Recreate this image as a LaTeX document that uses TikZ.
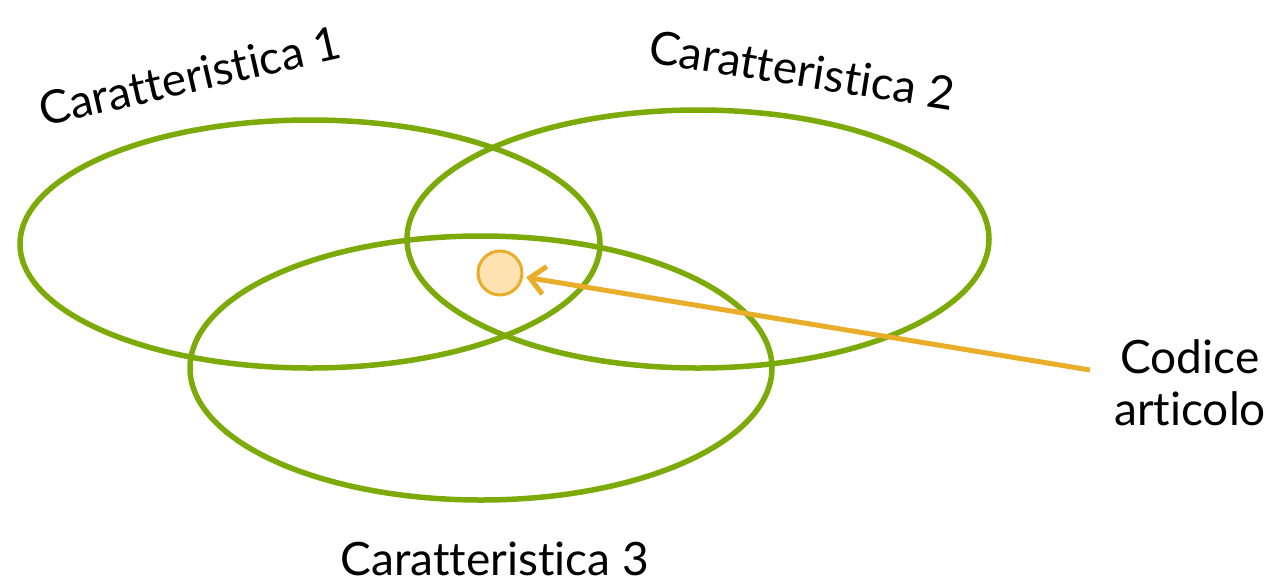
\documentclass[tikz,border=0pt]{standalone}
\usepackage{fontspec}
\setmainfont{Lato}[Ligatures=NoCommon]
\usepackage{xcolor}
\usetikzlibrary{arrows.meta,calc,positioning}

\definecolor{setgreen}{RGB}{124,170,8}
\definecolor{codeorange}{RGB}{233,173,42}
\definecolor{codefill}{RGB}{255,226,178}

\tikzset{
  setline/.style={line width=5.5pt, setgreen},
  setlabel/.style={font=\fontsize{46}{52}\selectfont, inner sep=0pt},
}

\begin{document}
\begin{tikzpicture}[x=1pt, y=-1pt]
  % frame of the picture
  \useasboundingbox (0,0) rectangle (1280,582);

  % Sets
  \draw[setline] (310,244) ellipse (290 and 124);
  \draw[setline] (698,239) ellipse (291 and 129);
  \draw[setline] (481,368) ellipse (291 and 132);

  % Set labels
  \node[setlabel, rotate=13] (car1) at (190,76) {Caratteristica 1};
  \node[setlabel, rotate=-9] (car2) at (802,70) {Caratteristica 2};
  \node[setlabel] (car3) at (495,559) {Caratteristica 3};

  % Item and its label
  \node[setlabel, align=center] (codice) at (1190,383) {Codice\\articolo};
  \coordinate (tail) at (1090,370);
  \node[circle, draw=codeorange, fill=codefill, line width=3pt,
        minimum size=44pt, inner sep=0pt] (item) at (500,273) {};
  \draw[-{Straight Barb[length=15pt, width=28pt]}, line width=5pt, codeorange,
        shorten >=3pt] (tail) -- (item);
\end{tikzpicture}
\end{document}
